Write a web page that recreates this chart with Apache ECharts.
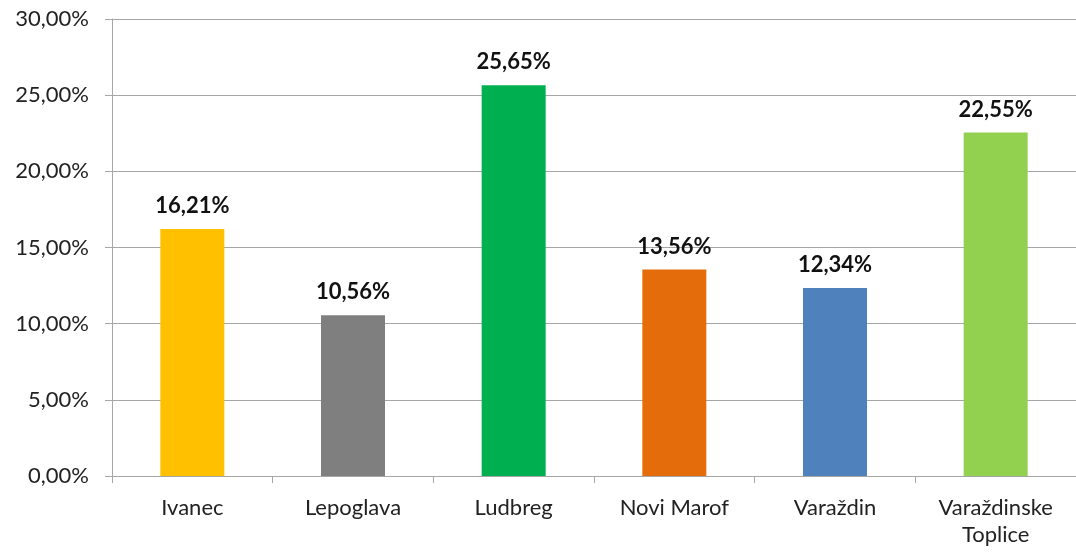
<!DOCTYPE html>
<html>
<head>
<meta charset="utf-8">
<script src="https://cdn.jsdelivr.net/npm/echarts@6/dist/echarts.min.js"></script>
<style>
html, body { margin: 0; padding: 0; background: #fff; }
#main { width: 1076px; height: 556px; }
</style>
</head>
<body>
<div id="main"></div>
<script>
// podaci
var categories = ['Ivanec', 'Lepoglava', 'Ludbreg', 'Novi Marof', 'Varaždin', 'Varaždinske\nToplice'];
var values = [16.21, 10.56, 25.65, 13.56, 12.34, 22.55];
var colors = ['#FFC000', '#7F7F7F', '#00B050', '#E46C0A', '#4F81BD', '#92D050'];

function pct (v) {
    return v.toFixed(2).replace('.', ',') + '%';
}

var myChart = echarts.init(document.getElementById('main'));

var option = {
    animation: false,
    grid: { left: 112, right: -6, top: 19, bottom: 80 },
    xAxis: {
        type: 'category',
        data: categories,
        axisLine: { lineStyle: { color: '#A6A6A6', width: 1 } },
        axisTick: { show: true, length: 7, lineStyle: { color: '#A6A6A6' } },
        axisLabel: {
            color: '#222',
            fontFamily: 'Lato',
            fontSize: 22,
            margin: 18,
            lineHeight: 27
        }
    },
    yAxis: {
        type: 'value',
        min: 0,
        max: 30,
        interval: 5,
        axisLine: { show: true, lineStyle: { color: '#A6A6A6', width: 1 } },
        axisTick: { show: true, length: 7, lineStyle: { color: '#A6A6A6' } },
        splitLine: { lineStyle: { color: '#A6A6A6', width: 1 } },
        axisLabel: {
            color: '#222',
            fontFamily: 'Lato',
            fontSize: 22,
            margin: 23,
            formatter: function (v) { return pct(v); }
        }
    },
    series: [{
        type: 'bar',
        barWidth: 64,
        data: values.map(function (v, i) {
            return { value: v, itemStyle: { color: colors[i] } };
        }),
        label: {
            show: true,
            position: 'top',
            distance: 12,
            color: '#111',
            fontFamily: 'Lato',
            fontWeight: 'bold',
            fontSize: 22,
            formatter: function (p) { return pct(p.value); }
        }
    }]
};

myChart.setOption(option);
</script>
</body>
</html>
